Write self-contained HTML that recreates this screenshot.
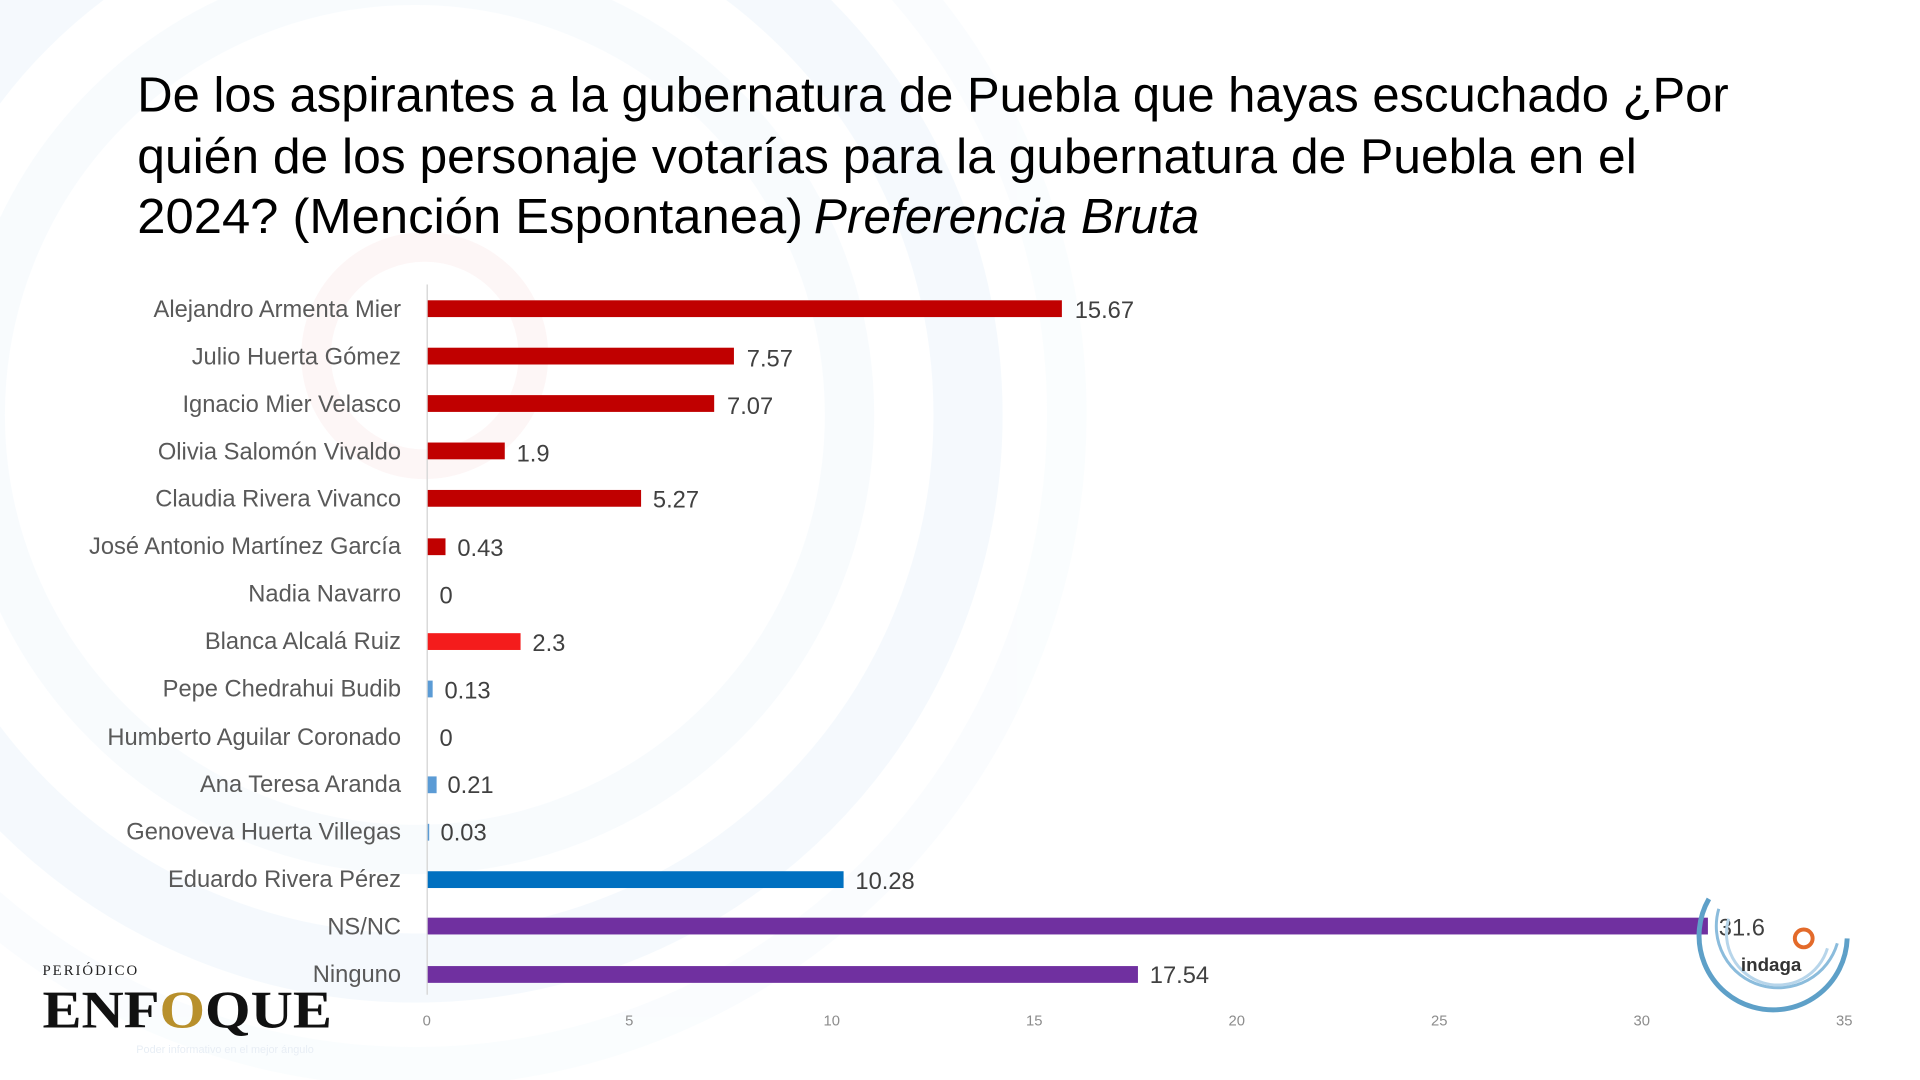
<!DOCTYPE html>
<html><head><meta charset="utf-8"><style>
html,body{margin:0;padding:0;background:#fff;width:1920px;height:1080px;overflow:hidden}
svg{display:block}
</style></head><body>
<svg width="1920" height="1080" viewBox="0 0 1920 1080" xmlns="http://www.w3.org/2000/svg" font-family="Liberation Sans, sans-serif">
<g transform="scale(0.9878)">
<!-- faint background arcs -->
<g fill="none" opacity="0.35">
<circle cx="420" cy="420" r="560" stroke="#e3f0fa" stroke-width="70"/>
<circle cx="420" cy="420" r="440" stroke="#edf5fc" stroke-width="50"/>
<circle cx="430" cy="360" r="110" stroke="#fbe6e6" stroke-width="30"/>
<circle cx="420" cy="420" r="660" stroke="#f2f8fd" stroke-width="40"/>
</g>
<!-- title -->
<g fill="#000" font-size="50">
<text x="139" y="113" textLength="1611" lengthAdjust="spacingAndGlyphs">De los aspirantes a la gubernatura de Puebla que hayas escuchado ¿Por</text>
<text x="139" y="175" textLength="1518" lengthAdjust="spacingAndGlyphs">quién de los personaje votarías para la gubernatura de Puebla en el</text>
<text x="139" y="236" textLength="674" lengthAdjust="spacingAndGlyphs">2024? (Mención Espontanea)</text>
<text x="824" y="236" font-style="italic" textLength="390" lengthAdjust="spacingAndGlyphs">Preferencia Bruta</text>
</g>
<!-- axis -->
<line x1="432.5" y1="288" x2="432.5" y2="1007" stroke="#d9d9d9" stroke-width="1.5"/>
<g font-size="15" fill="#8c8c8c" text-anchor="middle">
<text x="432" y="1038">0</text><text x="637" y="1038">5</text><text x="842" y="1038">10</text><text x="1047" y="1038">15</text><text x="1252" y="1038">20</text><text x="1457" y="1038">25</text><text x="1662" y="1038">30</text><text x="1867" y="1038">35</text>
</g>
<!-- bars -->
<g>
<rect x="433" y="304" width="642" height="17" fill="#c00000"/>
<rect x="433" y="352" width="310" height="17" fill="#c00000"/>
<rect x="433" y="400" width="290" height="17" fill="#c00000"/>
<rect x="433" y="448" width="78" height="17" fill="#c00000"/>
<rect x="433" y="496" width="216" height="17" fill="#c00000"/>
<rect x="433" y="545" width="18" height="17" fill="#c00000"/>
<rect x="433" y="641" width="94" height="17" fill="#f41c1c"/>
<rect x="433" y="689" width="5" height="17" fill="#5b9bd5"/>
<rect x="433" y="786" width="9" height="17" fill="#5b9bd5"/>
<rect x="433" y="834" width="1.5" height="17" fill="#5b9bd5"/>
<rect x="433" y="882" width="421" height="17" fill="#0070c0"/>
<rect x="433" y="929" width="1296" height="17" fill="#7030a0"/>
<rect x="433" y="978" width="719" height="17" fill="#7030a0"/>
</g>
<!-- category labels -->
<g font-size="24" fill="#595959" text-anchor="end">
<text x="406" y="321">Alejandro Armenta Mier</text>
<text x="406" y="369">Julio Huerta Gómez</text>
<text x="406" y="417">Ignacio Mier Velasco</text>
<text x="406" y="465">Olivia Salomón Vivaldo</text>
<text x="406" y="513">Claudia Rivera Vivanco</text>
<text x="406" y="561">José Antonio Martínez García</text>
<text x="406" y="609">Nadia Navarro</text>
<text x="406" y="657">Blanca Alcalá Ruiz</text>
<text x="406" y="705">Pepe Chedrahui Budib</text>
<text x="406" y="754">Humberto Aguilar Coronado</text>
<text x="406" y="802">Ana Teresa Aranda</text>
<text x="406" y="850">Genoveva Huerta Villegas</text>
<text x="406" y="898">Eduardo Rivera Pérez</text>
<text x="406" y="946">NS/NC</text>
<text x="406" y="994">Ninguno</text>
</g>
<!-- value labels -->
<g font-size="24" fill="#404040">
<text x="1088" y="322">15.67</text>
<text x="756" y="371">7.57</text>
<text x="736" y="419">7.07</text>
<text x="523" y="467">1.9</text>
<text x="661" y="514">5.27</text>
<text x="463" y="563">0.43</text>
<text x="445" y="611">0</text>
<text x="539" y="659">2.3</text>
<text x="450" y="707">0.13</text>
<text x="445" y="755">0</text>
<text x="453" y="803">0.21</text>
<text x="446" y="851">0.03</text>
<text x="866" y="900">10.28</text>
<text x="1740" y="947">31.6</text>
<text x="1164" y="995">17.54</text>
</g>
<!-- indaga logo -->
<g fill="none">
<path d="M1730 910 A75 75 0 1 0 1870 950" stroke="#5ea0c8" stroke-width="5"/>
<path d="M1740 920 A62 62 0 1 0 1860 955" stroke="#8bbcdc" stroke-width="3"/>
<path d="M1750 930 A50 50 0 1 0 1850 960" stroke="#b7d5ea" stroke-width="3"/>
<circle cx="1826" cy="950" r="9" stroke="#e36a2a" stroke-width="4"/>
</g>
<text x="1793" y="983" font-size="19" font-weight="bold" fill="#333" text-anchor="middle">indaga</text>
<!-- Enfoque logo -->
<text x="43" y="987" font-size="15" fill="#222" font-family="Liberation Serif, serif" letter-spacing="2">PERIÓDICO</text>
<text x="43" y="1040" font-size="54" font-weight="bold" fill="#111" font-family="Liberation Serif, serif" textLength="293" lengthAdjust="spacingAndGlyphs">ENF<tspan fill="#b8902c">O</tspan>QUE</text>
<text x="138" y="1066" font-size="11" fill="#e8eef5">Poder informativo en el mejor ángulo</text>
</g>
</svg>
</body></html>
